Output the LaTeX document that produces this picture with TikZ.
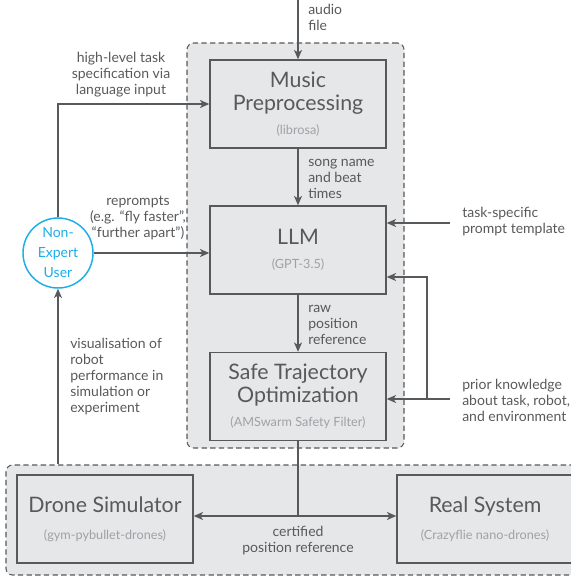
\documentclass[tikz,border=0pt]{standalone}
\usepackage{fontspec}
\setmainfont{Lato}
\usetikzlibrary{arrows.meta}
\definecolor{boxgray}{HTML}{E6E7E8}
\definecolor{linegray}{HTML}{58595B}
\definecolor{subgray}{HTML}{A0A1A4}
\definecolor{usercyan}{HTML}{1CAEE8}
\newcommand{\subtxt}[1]{{\color{subgray}\fontsize{9.5}{11}\selectfont #1}}

\begin{document}
\begin{tikzpicture}[x=0.75pt,y=-0.75pt,
    container/.style={draw=linegray,fill=boxgray,dashed,dash pattern=on 4pt off 2.5pt,
      line width=0.8pt,rounded corners=5pt,inner sep=0pt},
    block/.style={draw=linegray,fill=boxgray,line width=1.1pt,minimum width=132pt,
      minimum height=66pt,align=center,text=linegray,font=\fontsize{16}{17}\selectfont},
    lbl/.style={text=linegray,font=\fontsize{10.5}{12}\selectfont,inner sep=0pt},
    arr/.style={draw=linegray,line width=1.1pt,-{Stealth[length=7pt,width=6pt,inset=2pt]}},
    plain/.style={draw=linegray,line width=1.1pt}]
    \clip (0,0) rectangle (571,576);
    % containers
    \node[container,minimum width=162.75pt,minimum height=303.75pt] (sw) at (295.5,245.5) {};
    \node[container,minimum width=438pt,minimum height=82.5pt] (hw) at (298,520) {};
    % blocks
    \node[block] (music) at (298,104) {Music\\Preprocessing\\[1pt]\subtxt{(librosa)}};
    \node[block] (llm) at (298,250) {LLM\\[1pt]\subtxt{(GPT-3.5)}};
    \node[block] (safe) at (298,396.5) {Safe Trajectory\\Optimization\\[1pt]\subtxt{(AMSwarm Safety Filter)}};
    \node[block] (sim) at (105,519) {Drone Simulator\\[3pt]\subtxt{(gym-pybullet-drones)}};
    \node[block] (real) at (485,519) {Real System\\[3pt]\subtxt{(Crazyflie nano-drones)}};
    \node[circle,draw=usercyan,line width=1.1pt,fill=white,minimum size=52.5pt,inner sep=0pt,
      align=center,text=usercyan,font=\fontsize{10.5}{15}\selectfont] (user) at (58,253) {Non-\\Expert\\User};
    % main chain
    \coordinate (audio) at (298,0);
    \draw[arr] (audio) -- (music);
    \node[lbl,anchor=west,align=left] (audiolbl) at (308,17) {audio\\file};
    \draw[arr] (music) -- (llm);
    \node[lbl,anchor=west,align=left] (songlbl) at (308,179) {song name\\and beat\\times};
    \draw[arr] (llm) -- (safe);
    \node[lbl,anchor=west,align=left] (rawlbl) at (308,325) {raw\\position\\reference};
    \coordinate (split) at (298,516);
    \draw[plain] (safe) -- (split);
    \draw[arr] (split) -- (split -| sim.east);
    \draw[arr] (split) -- (split -| real.west);
    \node[lbl,align=center] (certlbl) at (298,541) {certified\\position reference};
    % user loop
    \draw[arr] (user.north) |- (music.west);
    \node[lbl,align=center] (tasklbl) at (121,75) {high-level task\\specification via\\language input};
    \draw[arr] (user) -- (user -| llm.west);
    \node[lbl,align=center] (replbl) at (138,218) {reprompts\\(e.g. ``fly faster'',\\``further apart'')};
    \draw[arr] (hw.north -| user) -- (user);
    \node[lbl,anchor=west,align=left] (vislbl) at (70,377) {visualisation of\\robot\\performance in\\simulation or\\experiment};
    % right inputs
    \coordinate (tpl) at (450,223);
    \draw[arr] (tpl) -- (tpl -| llm.east);
    \node[lbl,anchor=west,align=left] (tpllbl) at (462,222) {task-specific\\prompt template};
    \coordinate (prior) at (450,399);
    \coordinate (knot) at (427,399);
    \coordinate (bend) at (427,277);
    \draw[arr] (prior) -- (prior -| safe.east);
    \draw[arr] (knot) -- (bend) -- (bend -| llm.east);
    \node[lbl,anchor=west,align=left] (priorlbl) at (462,400) {prior knowledge\\about task, robot,\\and environment};
\end{tikzpicture}
\end{document}
